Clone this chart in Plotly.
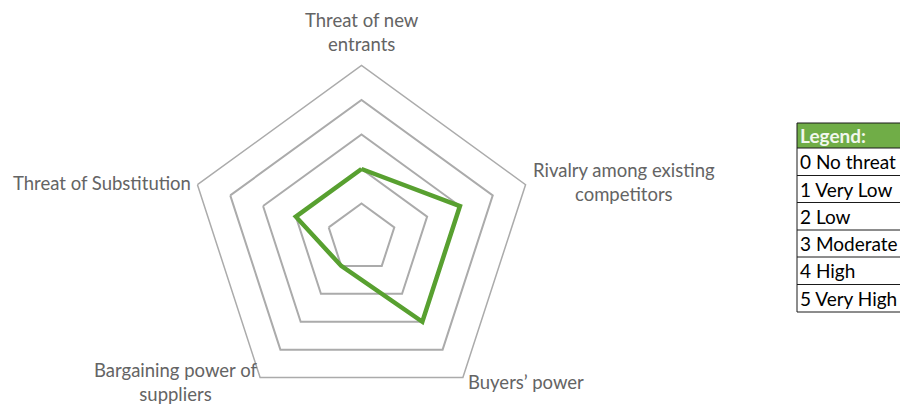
import plotly.graph_objects as go

# Forces de Porter - niveaux de menace (0 à 5)
categories = ["Threat of new entrants", "Rivalry among existing competitors",
              "Buyers’ power", "Bargaining power of suppliers", "Threat of Substitution"]
label_text = ["Threat of new<br>entrants", "Rivalry among existing<br>competitors",
              "Buyers’ power", "Bargaining power of<br>suppliers", "Threat of Substitution"]
scores = [2, 3, 3, 1, 2]

legend_header = "Legend:"
legend_rows = ["0 No threat", "1 Very Low", "2 Low", "3 Moderate", "4 High", "5 Very High"]

W, H = 900, 412  # un peu plus haut que la fenêtre : le bas est rogné (overflow masqué)
FONT = "Lato"


def px_x(x):
    return x / W


def px_y(y):
    return 1 - y / H


# centre et rayon du radar (pixels)
cx, cy, rad = 361.5, 238, 172.5

fig = go.Figure()

fig.add_trace(go.Scatterpolar(
    r=scores + scores[:1],
    theta=categories + categories[:1],
    mode="lines",
    line=dict(color="#58a030", width=4.5),
    showlegend=False,
))

# étiquettes des axes
label_pos = [(362, 32), (624, 182), (526, 382), (175, 382), (102, 183)]
for txt, (x, y) in zip(label_text, label_pos):
    fig.add_annotation(
        x=px_x(x), y=px_y(y), xref="paper", yref="paper",
        text=txt, showarrow=False, xanchor="center", yanchor="middle",
        font=dict(family=FONT, size=18.5, color="#646464"),
    )

# tableau de légende à droite (coupé par le bord droit)
tbl_left, tbl_right = 797, 930
row_edges = [123, 148, 175.5, 202.5, 230, 257, 284.5, 312]
fig.add_shape(type="rect", xref="paper", yref="paper",
              x0=px_x(tbl_left), x1=px_x(tbl_right), y0=px_y(row_edges[0]), y1=px_y(row_edges[1]),
              fillcolor="#70ad47", line=dict(width=0))
fig.add_shape(type="rect", xref="paper", yref="paper",
              x0=px_x(tbl_left), x1=px_x(tbl_right), y0=px_y(row_edges[0]), y1=px_y(row_edges[-1]),
              fillcolor="rgba(0,0,0,0)", line=dict(color="#1a1a1a", width=1))
for ye in row_edges[1:-1]:
    fig.add_shape(type="line", xref="paper", yref="paper",
                  x0=px_x(tbl_left), x1=px_x(tbl_right), y0=px_y(ye), y1=px_y(ye),
                  line=dict(color="#1a1a1a", width=1))

cell_texts = ["<b>" + legend_header + "</b>"] + legend_rows
for i, txt in enumerate(cell_texts):
    yc = (row_edges[i] + row_edges[i + 1]) / 2
    fig.add_annotation(
        x=px_x(tbl_left + 1), y=px_y(yc), xref="paper", yref="paper",
        text=txt, showarrow=False, xanchor="left", yanchor="middle",
        font=dict(family=FONT, size=19, color="#f2f7ee" if i == 0 else "black"),
    )

fig.update_layout(
    width=W, height=H,
    margin=dict(l=0, r=0, t=0, b=0),
    paper_bgcolor="white",
    plot_bgcolor="white",
    polar=dict(
        domain=dict(x=[px_x(cx - rad), px_x(cx + rad)],
                    y=[max(0.0, px_y(cy + rad)), min(1.0, px_y(cy - rad))]),
        gridshape="linear",
        bgcolor="white",
        radialaxis=dict(
            range=[0, 5], tickvals=[1, 2, 3, 4, 5], showticklabels=False,
            ticks="", showline=False, gridcolor="#ababab", gridwidth=1.5,
        ),
        angularaxis=dict(
            rotation=90, direction="clockwise", showticklabels=False, ticks="",
            showgrid=False, showline=True, linecolor="#ababab", linewidth=1.5,
        ),
    ),
)

fig.write_html(
    "out.html",
    config={"displayModeBar": False},
    post_script="document.body.style.margin='0';"
                "document.documentElement.style.overflow='hidden';",
)
